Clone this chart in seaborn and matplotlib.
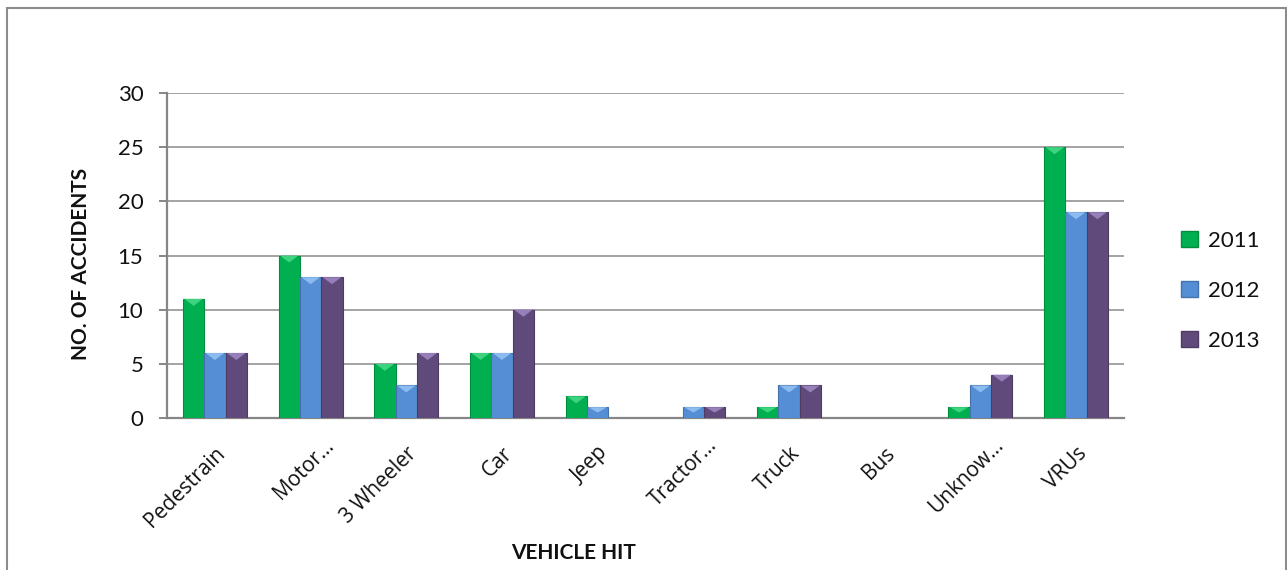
import numpy as np
import pandas as pd
import matplotlib
matplotlib.use("Agg")
import matplotlib.pyplot as plt
from matplotlib.patches import Rectangle, Polygon, Patch
import matplotlib.colors as mcolors
import matplotlib.transforms as mtransforms
import seaborn as sns

categories = ["Pedestrain", "Motor…", "3 Wheeler", "Car", "Jeep",
              "Tractor…", "Truck", "Bus", "Unknow…", "VRUs"]
years = ["2011", "2012", "2013"]
values_2011 = [11, 15, 5, 6, 2, 0, 1, 0, 1, 25]
values_2012 = [6, 13, 3, 6, 1, 1, 3, 0, 3, 19]
values_2013 = [6, 13, 6, 10, 0, 1, 3, 0, 4, 19]
y_ticks = [0, 5, 10, 15, 20, 25, 30]

colors = ["#00B050", "#558ED5", "#604A7B"]
top_colors = ["#45D985", "#93C2F2", "#9E86C2"]

df = pd.DataFrame({
    "Vehicle": categories * 3,
    "Year": [years[0]] * 10 + [years[1]] * 10 + [years[2]] * 10,
    "Accidents": values_2011 + values_2012 + values_2013,
})

sns.set_theme(style="white")
plt.rcParams["font.family"] = ["Lato", "DejaVu Sans"]

fig = plt.figure(figsize=(12.87, 5.70), dpi=100)
ax = fig.add_axes([0.1298, 0.2667, 0.7435, 0.5701])

sns.barplot(data=df, x="Vehicle", y="Accidents", hue="Year",
            palette=colors, width=0.67, gap=0, ax=ax, legend=False,
            errorbar=None, saturation=1, zorder=3)

ax.set_ylim(0, 30)
ax.set_xlim(-0.5, len(categories) - 0.5)
ax.set_yticks(y_ticks)
ax.set_yticklabels([str(t) for t in y_ticks], fontsize=16, color="#111111")

# horizontal gridlines
ax.yaxis.grid(True, color="#8A8A8A", linewidth=1.1, zorder=0)
ax.xaxis.grid(False)
ax.set_axisbelow(True)

for side in ["top", "right"]:
    ax.spines[side].set_visible(False)
for side in ["left", "bottom"]:
    ax.spines[side].set_color("#868686")
    ax.spines[side].set_linewidth(1.6)

ax.tick_params(axis="y", which="both", left=True, length=6, width=1.4,
               color="#868686", pad=11)
ax.tick_params(axis="x", which="both", bottom=False, pad=12)

ax.set_xticks(range(len(categories)))
ax.set_xticklabels(categories, rotation=45, ha="right", rotation_mode="anchor",
                   fontsize=15, family=["Open Sans", "DejaVu Sans"],
                   color="#111111")
# truncated labels sit a little further along their baseline
for lab in ax.get_xticklabels():
    if lab.get_text().endswith("…"):
        lab.set_transform(lab.get_transform() +
                          mtransforms.ScaledTranslation(13 / 100, 8 / 100,
                                                        fig.dpi_scale_trans))

ax.set_xlabel("VEHICLE HIT", fontsize=15, fontweight="bold", color="#111111",
              va="center")
ax.set_ylabel("NO. OF ACCIDENTS", fontsize=15, fontweight="bold", color="#111111",
              va="center")
ax.xaxis.set_label_coords(0.4245, -0.415)
ax.yaxis.set_label_coords(-0.09, 0.475)

# bevelled bar tops: a lighter chevron at the top of each bar
fig.canvas.draw()
px_per_unit = ax.transData.transform((0, 1))[1] - ax.transData.transform((0, 0))[1]
for i, bar in enumerate(ax.patches):
    h = bar.get_height()
    if h <= 0:
        bar.set_visible(False)
        continue
    yi = i // len(categories)
    base = colors[yi]
    bar.set_edgecolor(mcolors.to_hex(np.array(mcolors.to_rgb(base)) * 0.8))
    bar.set_linewidth(0.8)
    x0 = bar.get_x()
    w = bar.get_width()
    depth = min(7.0 / px_per_unit, h * 0.5)
    tri = Polygon([(x0 + w * 0.06, h), (x0 + w * 0.94, h),
                   (x0 + w / 2, h - depth)],
                  closed=True, facecolor=top_colors[yi], edgecolor="none",
                  zorder=4, alpha=0.9)
    ax.add_patch(tri)

# legend
handles = [Patch(facecolor=c, edgecolor=mcolors.to_hex(np.array(mcolors.to_rgb(c)) * 0.8),
                 label=y) for c, y in zip(colors, years)]
leg = fig.legend(handles=handles, loc="center left",
                 bbox_to_anchor=(0.902, 0.49), frameon=False, fontsize=16,
                 handlelength=0.75, handleheight=0.75, handletextpad=0.45,
                 labelspacing=1.35)
for t in leg.get_texts():
    t.set_color("#111111")

# outer chart border
fig.patches.append(Rectangle((7 / 1287, -0.02), 1278.5 / 1287, 1 - 8 / 570 + 0.02,
                             transform=fig.transFigure, fill=False,
                             edgecolor="#8C8C8C", linewidth=1.5))

fig.savefig("out.png", dpi=100)
